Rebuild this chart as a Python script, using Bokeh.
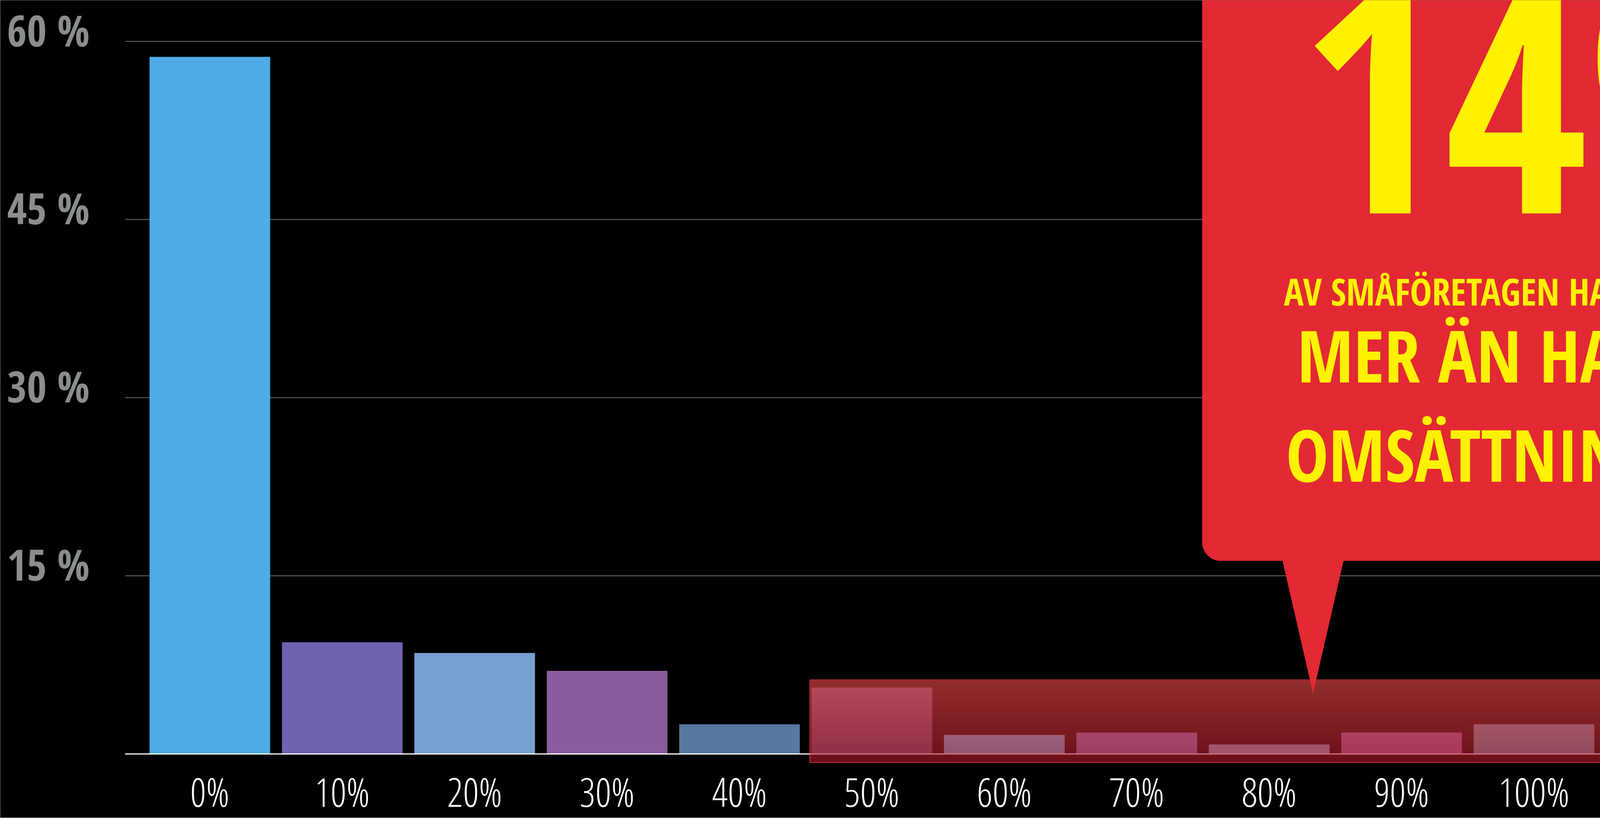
import numpy as np
from bokeh.plotting import figure
from bokeh.core.properties import value
from bokeh.embed import file_html
from bokeh.resources import INLINE

# ---------------- data ----------------
categories = ["0%", "10%", "20%", "30%", "40%", "50%", "60%", "70%", "80%", "90%", "100%"]
shares = [58.7, 9.4, 8.5, 7.0, 2.5, 5.6, 1.6, 1.8, 0.8, 1.8, 2.5]
bar_colors = ["#4EABE8", "#6E63B0", "#789FD1", "#8A5D9C", "#56799F",
              "#56496C", "#58ACE1", "#706EB3", "#78A2C6", "#8C5C9A", "#5F8AA2"]
y_ticks = [15, 30, 45, 60]
y_tick_labels = ["15 %", "30 %", "45 %", "60 %"]
highlight_start = 5
callout_number = "14%"
callout_lines = ["AV SMÅFÖRETAGEN HAR TA", "MER ÄN HALV", "OMSÄTTNING"]

# ---------------- layout ----------------
W, H = 4107, 2093
REF_W, REF_H = 4123, 2109
k = W / REF_W
X0_PX, STEP_PX = 538.8, 340.3
BASE_PX, UNIT_PX = 1944.0, 30.63


def X(px):
    return (px - X0_PX) / STEP_PX


def Y(px):
    return (BASE_PX - px) / UNIT_PX


FONT_BOLD = value("Open Sans Condensed")
FONT_LIGHT = value("Open Sans Condensed Light")
BAR_W = 0.911

p = figure(width=W, height=H, x_range=(X(0), X(REF_W)), y_range=(Y(REF_H), Y(0)),
           output_backend="svg", toolbar_location=None,
           x_axis_location=None, y_axis_location=None, min_border=0,
           background_fill_color="black", border_fill_color="black",
           outline_line_color=None)
p.grid.visible = False

x_left_grid = X(321)
x_right_end = X(REF_W) + 1

# horizontal grid lines
p.segment(x0=[x_left_grid] * len(y_ticks), y0=y_ticks,
          x1=[x_right_end] * len(y_ticks), y1=y_ticks,
          line_color="#5A5A5A", line_width=2.5 * k)

# plain bars
idx = list(range(len(categories)))
p.vbar(x=idx[:highlight_start], top=shares[:highlight_start], bottom=0, width=BAR_W,
       fill_color=bar_colors[:highlight_start], line_color=None)

# translucent-looking red highlight box (opaque gradient strips)
box_left = highlight_start - 0.468
box_bottom, box_top = Y(1966), Y(1753)
top_rgb = np.array([146, 46, 46], float)
bot_rgb = np.array([107, 15, 26], float)


def bg(yv):
    t = (yv - box_bottom) / (box_top - box_bottom)
    return top_rgb * t + bot_rgb * (1 - t)


def hexc(rgb):
    r, g, b = np.clip(np.round(rgb), 0, 255).astype(int)
    return "#%02x%02x%02x" % (r, g, b)


N = 80
edges = np.linspace(box_bottom, box_top, N + 1)
eps = (box_top - box_bottom) / N * 0.6
tops = edges[1:] + eps
tops[-1] = box_top
p.quad(left=[box_left] * N, right=[x_right_end] * N, bottom=edges[:-1], top=tops,
       fill_color=[hexc(bg((a + b) / 2)) for a, b in zip(edges[:-1], edges[1:])],
       line_color=None)

# highlighted bars as seen through the red box
L, R, B, T, C = [], [], [], [], []
for i in range(highlight_start, len(categories)):
    base = np.array([int(bar_colors[i][j:j + 2], 16) for j in (1, 3, 5)], float)
    m = max(3, int(shares[i] / 0.08))
    e = np.linspace(0, shares[i], m + 1)
    ep = shares[i] / m * 0.6
    for j in range(m):
        L.append(i - BAR_W / 2)
        R.append(i + BAR_W / 2)
        B.append(e[j])
        T.append(min(e[j + 1] + ep, shares[i]))
        C.append(hexc(bg((e[j] + e[j + 1]) / 2) + 0.4 * base))
p.quad(left=L, right=R, bottom=B, top=T, fill_color=C, line_color=None)

p.quad(left=[box_left], right=[x_right_end + 1], bottom=[box_bottom], top=[box_top],
       fill_color=None, line_color="#A3262C", line_width=3 * k)

# zero line
p.segment(x0=[x_left_grid], y0=[0], x1=[box_left], y1=[0], line_color="white", line_width=3 * k)
p.segment(x0=[box_left], y0=[0], x1=[x_right_end], y1=[0],
          line_color=hexc(bg(0) + 0.4 * 255), line_width=3 * k)

# callout bubble
RED = "#E32934"
p.quad(left=[X(3089)], right=[X(REF_W) + 3], bottom=[Y(1446)], top=[Y(0) + 20],
       fill_color=RED, line_color=None, border_radius=48)
p.patch(x=[X(3292), X(3456), X(3374)], y=[Y(1430), Y(1430), Y(1788)],
        fill_color=RED, line_color=None)

# y tick labels
p.text(x=[X(230)] * len(y_ticks), y=y_ticks, text=y_tick_labels, text_font=FONT_BOLD,
       text_align="right", text_baseline="middle", y_offset=-30 * k,
       text_font_style="bold", text_font_size=f"{110 * k:.1f}px",
       text_color="#8A8E8F")

# category labels
p.text(x=idx, y=[0] * len(idx), text=categories, text_align="center", text_font=FONT_LIGHT,
       text_baseline="middle", y_offset=96 * k,
       text_font_size=f"{102 * k:.1f}px", text_color="white")

# callout texts
YELLOW = "#FFF200"
p.text(x=[X(3340)], y=[Y(238)], text=[callout_number], text_align="left",
       text_baseline="middle", text_font=FONT_BOLD, text_font_style="bold",
       text_font_size=f"{800 * k:.1f}px", text_color=YELLOW)
p.text(x=[X(3299)], y=[Y(751)], text=[callout_lines[0]], text_align="left",
       text_baseline="middle", text_font=FONT_BOLD, text_font_style="bold",
       text_font_size=f"{95 * k:.1f}px", text_color=YELLOW)
p.text(x=[X(3333), X(3304)], y=[Y(914), Y(1170)], text=callout_lines[1:], text_align="left",
       text_baseline="middle", text_font=FONT_BOLD, text_font_style="bold",
       text_font_size=f"{185 * k:.1f}px", text_color=YELLOW)

open("out.html", "w").write(file_html(p, INLINE))
